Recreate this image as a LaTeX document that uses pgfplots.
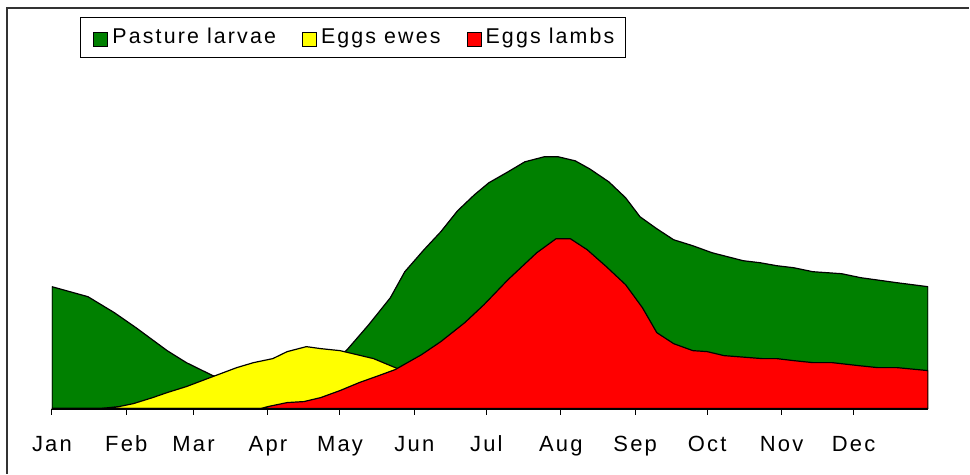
\documentclass[border=0pt]{standalone}
\usepackage{fontspec}
\setmainfont{Liberation Sans}[LetterSpace=10]
\usepackage{pgfplots}
\pgfplotsset{compat=1.18}

\definecolor{pgreen}{RGB}{0,128,0}
\definecolor{pyellow}{RGB}{255,255,0}
\definecolor{pred}{RGB}{255,0,0}

\begin{document}
\begin{tikzpicture}
  \begin{axis}[
      scale only axis,
      width=438.5pt, height=174.5pt,
      xmin=0, xmax=365, ymin=0, ymax=349,
      axis x line*=bottom,
      axis line style={-, line width=1pt},
      hide y axis,
      xtick={0,31,59,90,120,151,181,212,243,273,304,334},
      xticklabels={Jan,Feb,Mar,Apr,May,Jun,Jul,Aug,Sep,Oct,Nov,Dec},
      tick align=outside,
      major tick length=3pt,
      tick style={black, line width=0.5pt},
      xticklabel style={font=\fontsize{11}{13}\selectfont, anchor=base, yshift=-18.5pt},
      legend columns=3,
      legend cell align=left,
      legend style={at={(axis description cs:0.0319,1.1232)}, anchor=north west,
        draw=black, line width=0.5pt, font=\fontsize{10.7}{12}\selectfont,
        inner xsep=3.5pt, inner ysep=3.5pt,
        /tikz/every even column/.append style={column sep=8pt}},
      legend image code/.code={\path (0pt,0pt);
        \draw[#1, draw=black, line width=0.5pt] (3pt,-4.5pt) rectangle (10pt,2.5pt);},
    ]
    % Pasture larvae (back)
    \addplot[fill=pgreen, draw=black, line width=0.6pt] coordinates {
        (0,122) (15,112) (26,96) (35,81) (48,58) (56,46) (67,33) (78,24)
        (91,18) (103,22) (114,40) (123,59) (132,84) (141,111) (147,137)
        (155,159) (162,177) (169,198) (176,214) (182,226) (190,237) (197,247)
        (205,252) (211,252) (218,248) (224,240) (232,227) (239,211) (245,192)
        (252,180) (259,169) (267,163) (275,156) (288,148) (295,146) (302,143)
        (309,141) (317,137) (329,135) (337,131) (343,129) (352,126) (365,122)
      } \closedcycle;
    \addlegendentry{Pasture larvae}
    % Eggs ewes
    \addplot[fill=pyellow, draw=black, line width=0.6pt] coordinates {
        (0,0) (20,0) (28,2) (34,5) (42,11) (48,16) (56,22) (67,32) (77,41)
        (84,46) (92,50) (98,57) (106,62) (112,60) (120,58) (127,54) (134,50)
        (139,45) (144,40) (153,30) (166,15) (178,0) (365,0)
      } \closedcycle;
    \addlegendentry{Eggs ewes}
    % Eggs lambs (front)
    \addplot[fill=pred, draw=black, line width=0.6pt] coordinates {
        (0,0) (87,0) (90,2) (98,6) (105,7) (112,11) (120,18) (128,26) (135,32)
        (143,39) (154,54) (162,67) (172,86) (180,104) (190,129) (202,156)
        (210,170) (216,170) (223,159) (231,142) (239,124) (246,101) (252,76)
        (259,65) (267,58) (273,57) (280,53) (296,50) (302,50) (309,48) (317,46)
        (325,46) (336,43) (344,41) (352,41) (365,38)
      } \closedcycle;
    \addlegendentry{Eggs lambs}
  \end{axis}
  % outer frame (left and top edges only) and page size
  \draw[black!80, line width=1pt] (-22.5pt,-32.5pt) -- (-22.5pt,200.5pt) -- (459pt,200.5pt);
  \useasboundingbox (-26pt,-32.5pt) rectangle (459pt,204.5pt);
\end{tikzpicture}
\end{document}
